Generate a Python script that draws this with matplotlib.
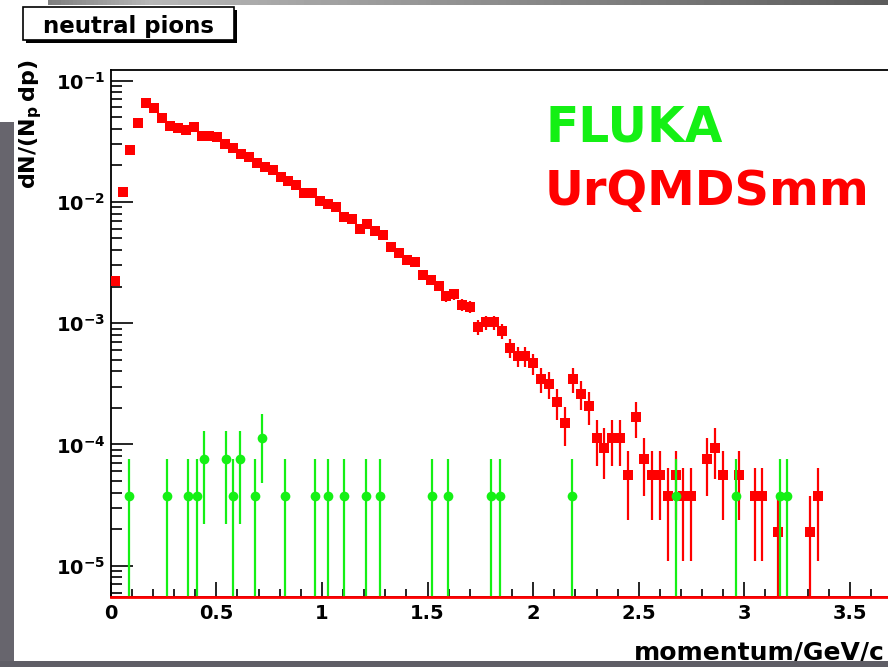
import numpy as np
import matplotlib
matplotlib.use("Agg")
import matplotlib.pyplot as plt
from matplotlib.patches import Rectangle
from matplotlib.ticker import LogLocator, MultipleLocator, NullFormatter, FuncFormatter

plt.rcParams['font.family'] = 'DejaVu Sans'
plt.rcParams['font.weight'] = 'bold'
plt.rcParams['mathtext.default'] = 'regular'

# histogram bins (momentum, GeV/c)
bin_width = 0.0374
urqmd_unit = 1.88e-5   # weight of one entry
fluka_unit = 3.76e-5

urqmd_vals = [2.24e-3, 1.21e-2, 2.67e-2, 4.49e-2, 6.49e-2, 5.97e-2, 4.88e-2, 4.24e-2,
              4.04e-2, 3.91e-2, 4.16e-2, 3.51e-2, 3.51e-2, 3.40e-2, 3.00e-2, 2.76e-2,
              2.50e-2, 2.33e-2, 2.09e-2, 1.93e-2, 1.83e-2, 1.61e-2, 1.49e-2, 1.38e-2,
              1.175e-2, 1.175e-2, 1.01e-2, 9.6e-3, 9.0e-3, 7.54e-3, 7.22e-3, 5.97e-3,
              6.56e-3, 5.71e-3, 5.32e-3, 4.26e-3, 3.76e-3, 3.30e-3, 3.21e-3, 2.51e-3,
              2.27e-3, 2.03e-3, 1.67e-3, 1.73e-3, 1.41e-3, 1.365e-3, 9.33e-4, 1.016e-3,
              1.016e-3, 8.61e-4, 6.27e-4, 5.39e-4, 5.39e-4, 4.67e-4, 3.48e-4, 3.15e-4,
              2.22e-4, 1.50e-4, 3.48e-4, 2.62e-4, 2.06e-4, 1.128e-4, 9.4e-5, 1.128e-4,
              1.128e-4, 5.64e-5, 1.69e-4, 7.52e-5, 5.64e-5, 5.64e-5, 3.76e-5, 5.64e-5,
              3.76e-5, 3.76e-5, 0, 7.52e-5, 9.4e-5, 5.64e-5, 0, 5.64e-5,
              0, 3.76e-5, 3.76e-5, 0, 1.88e-5, 0, 0, 0,
              1.88e-5, 3.76e-5]

fluka_p = [0.088, 0.268, 0.365, 0.408, 0.442, 0.546, 0.581, 0.613, 0.684, 0.718,
           0.826, 0.965, 1.031, 1.106, 1.210, 1.276, 1.521, 1.595, 1.801, 1.842,
           2.185, 2.678, 2.959, 3.169, 3.204]
fluka_vals = [3.76e-5, 3.76e-5, 3.76e-5, 3.76e-5, 7.52e-5, 7.52e-5, 3.76e-5, 7.52e-5,
              3.76e-5, 1.128e-4, 3.76e-5, 3.76e-5, 3.76e-5, 3.76e-5, 3.76e-5, 3.76e-5,
              3.76e-5, 3.76e-5, 3.76e-5, 3.76e-5, 3.76e-5, 3.76e-5, 3.76e-5, 3.76e-5,
              3.76e-5]

RED = '#ff0000'
GREEN = '#14f014'
ymin, ymax = 5.55e-6, 0.1221
xmax = 3.68   # the slide cuts the frame off here

def errs(v, unit):
    v = np.asarray(v, float)
    e = np.sqrt(v * unit)
    lo = np.where(v - e <= 0, v - 1e-12, e)
    return np.vstack([lo, e])

fig = plt.figure(figsize=(8.88, 6.67), dpi=100)
W, H = 888.0, 667.0
ax = fig.add_axes([110.7 / W, 1 - 596.7 / H, (W - 110.7) / W, 526.7 / H])
ax.set_yscale('log')
ax.set_xlim(0, xmax)
ax.set_ylim(ymin, ymax)
ax.spines['right'].set_visible(False)

uv = np.array(urqmd_vals)
ux = (np.arange(len(uv)) + 0.5) * bin_width
m = uv > 0
ax.errorbar(ux[m], uv[m], yerr=errs(uv[m], urqmd_unit), fmt='s', color=RED,
            ms=7.3, mew=0, elinewidth=1.6, capsize=0, zorder=3)

fv = np.array(fluka_vals)
ax.errorbar(fluka_p, fv, yerr=errs(fv, fluka_unit), fmt='o', color=GREEN,
            ms=7, mew=0, elinewidth=1.6, capsize=0, zorder=4)

ax.axhline(ymin, color=RED, lw=2, clip_on=False, zorder=5)

ax.xaxis.set_major_locator(MultipleLocator(0.5))
ax.xaxis.set_minor_locator(MultipleLocator(0.1))
ax.xaxis.set_major_formatter(FuncFormatter(lambda v, p: f"{v:g}"))
ax.yaxis.set_major_locator(LogLocator(base=10, numticks=10))
ax.yaxis.set_minor_locator(LogLocator(base=10, subs=np.arange(2, 10), numticks=10))
ax.yaxis.set_minor_formatter(NullFormatter())
ax.tick_params(which='both', direction='in', top=False, right=False, width=1.2,
               labelsize=14)
ax.tick_params(axis='y', which='major', length=16, pad=4)
ax.tick_params(axis='y', which='minor', length=8)
ax.tick_params(axis='x', which='major', length=11, pad=5)
ax.tick_params(axis='x', which='minor', length=5.5)
for s in ax.spines.values():
    s.set_linewidth(1.3)

fig.text(31 / W, 1 - 60 / H, "dN/(N$_{p}\\,$dp)", rotation=90, ha='center', va='top',
         fontsize=16)
fig.text(885 / W, 1 - 660 / H, "momentum/GeV/c", ha='right', va='baseline',
         fontsize=18)

fig.text(545 / W, 1 - 142 / H, "FLUKA", color=GREEN, fontsize=35, va='baseline')
fig.text(545 / W, 1 - 205 / H, "UrQMDSmm", color=RED, fontsize=34.5, va='baseline')

# title box with shadow
fig.add_artist(Rectangle((26 / W, 1 - 43 / H), 211 / W, 33 / H, transform=fig.transFigure,
                         fc='black', ec='none', zorder=6))
fig.add_artist(Rectangle((23 / W, 1 - 40 / H), 211 / W, 33 / H, transform=fig.transFigure,
                         fc='white', ec='black', lw=1.2, zorder=7))
fig.text(128.5 / W, 1 - 33.5 / H, "neutral pions", ha='center', va='baseline',
         fontsize=16.5, zorder=8)

# slide background bits
fig.add_artist(Rectangle((0, 0), 14 / W, (H - 122) / H, transform=fig.transFigure,
                         fc='#67656d', ec='none', zorder=10))
fig.add_artist(Rectangle((0, 0), 1, 6 / H, transform=fig.transFigure,
                         fc='#5f5e66', ec='none', zorder=10))
bar = fig.add_axes([48 / W, 1 - 5 / H, 1 - 48 / W, 5 / H], zorder=10)
grad = np.interp(np.linspace(0, 1, 200), [0, 0.12, 1], [0.5, 0.72, 0.36])
bar.imshow(grad[None, :], aspect='auto', cmap='gray', vmin=0, vmax=1)
bar.axis('off')

fig.savefig('out.png', dpi=100)
